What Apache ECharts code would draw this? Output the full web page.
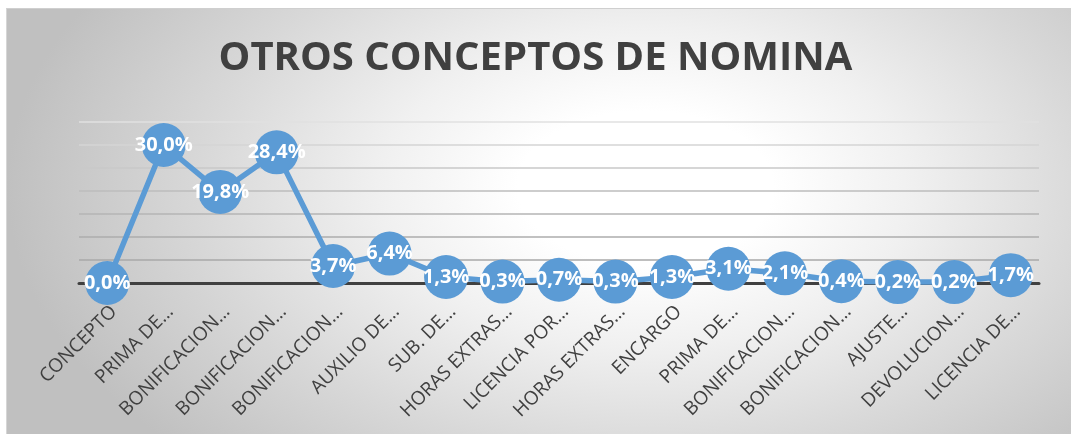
<!DOCTYPE html>
<html>
<head>
<meta charset="utf-8">
<script src="https://cdn.jsdelivr.net/npm/echarts@6/dist/echarts.min.js"></script>
<style>
  html, body { margin:0; padding:0; background:#ffffff; }
  #wrap { position:relative; width:1071px; height:434px; overflow:hidden; }
  #bg { position:absolute; left:6px; top:8px; width:1065px; height:426px;
        border-top:1px solid #cfcfcf; border-left:1px solid #d6d6d6; box-sizing:border-box;
        background: radial-gradient(ellipse 60% 90% at 60% 42%, #ffffff 0%, #ffffff 20%, #f0f0f0 42%, #d8d8d8 70%, #c0c0c0 100%); }
  #chart { position:absolute; left:0; top:0; width:1071px; height:434px; }
</style>
</head>
<body>
<div id="wrap"><div id="bg"></div><div id="chart"></div></div>
<script>
const titleText = 'OTROS CONCEPTOS DE NOMINA';
const categories = ['CONCEPTO','PRIMA DE…','BONIFICACION…','BONIFICACION…','BONIFICACION…','AUXILIO DE…','SUB. DE…','HORAS EXTRAS…','LICENCIA POR…','HORAS EXTRAS…','ENCARGO','PRIMA DE…','BONIFICACION…','BONIFICACION…','AJUSTE…','DEVOLUCION…','LICENCIA DE…'];
const values = [0.0, 30.0, 19.8, 28.4, 3.7, 6.4, 1.3, 0.3, 0.7, 0.3, 1.3, 3.1, 2.1, 0.4, 0.2, 0.2, 1.7];

const chart = echarts.init(document.getElementById('chart'), null, {renderer:'canvas'});
chart.setOption({
  backgroundColor: 'transparent',
  animation: false,
  title: {
    text: titleText, left: 'center', top: 34,
    textStyle: { fontFamily: 'Open Sans', fontWeight: 'bold', fontSize: 40, color: '#404040' }
  },
  grid: { left: 79, right: 32, top: 122, bottom: 151, containLabel: false },
  xAxis: {
    type: 'category', data: categories, boundaryGap: true,
    axisLine: { show: true, lineStyle: { color: '#404040', width: 3 } },
    axisTick: { show: false },
    axisLabel: { interval: 0, rotate: 45, margin: 19, color: '#404040', verticalAlign: 'top',
                 fontFamily: 'Open Sans', fontSize: 19 }
  },
  yAxis: {
    type: 'value', min: 0, max: 35, interval: 5,
    axisLabel: { show: false }, axisLine: { show: false }, axisTick: { show: false },
    splitLine: { show: true, lineStyle: { width: 1.5,
      color: ['#aaaaaa','#a8a8a8','#acacac','#b4b4b4','#bcbcbc','#c8c8c8','#d4d4d4','#e0e0e0'] } }
  },
  series: [{
    type: 'line', data: values,
    symbol: 'circle', symbolSize: 44,
    lineStyle: { color: '#5B9BD5', width: 5.5 },
    itemStyle: { color: '#5B9BD5' },
    label: { show: true, position: 'inside', color: '#ffffff', fontFamily: 'Open Sans',
             fontWeight: 'bold', fontSize: 20,
             formatter: p => p.value.toFixed(1).replace('.', ',') + '%' }
  }]
});
</script>
</body>
</html>
